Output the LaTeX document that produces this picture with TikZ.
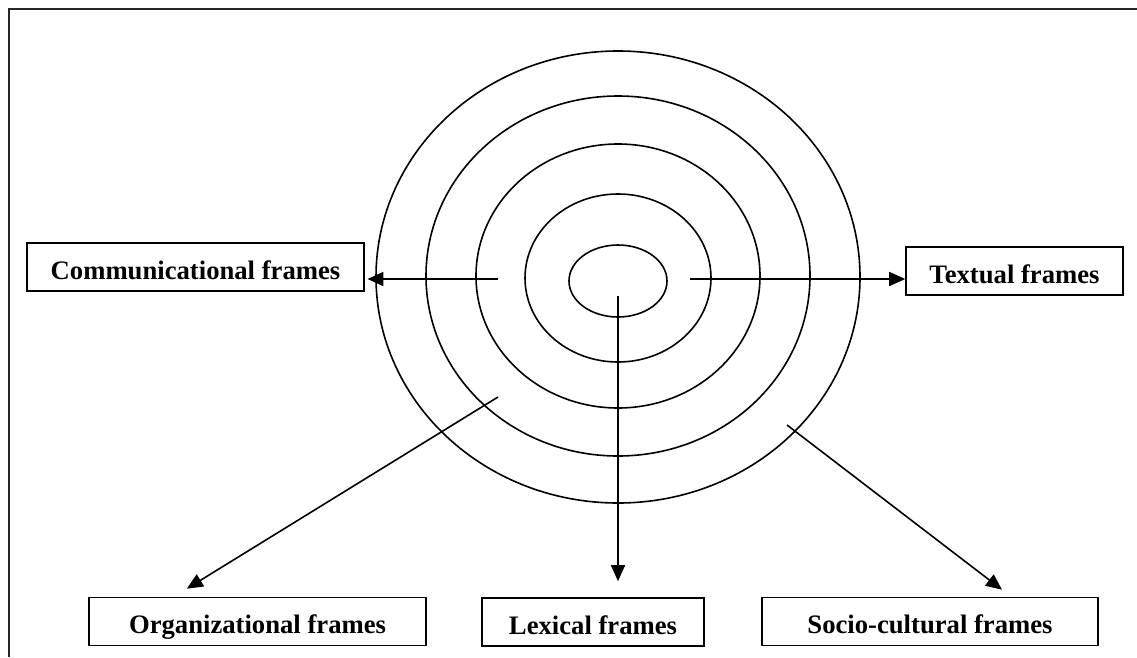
\documentclass[tikz,border=0pt]{standalone}
\usepackage{fontspec}
\setmainfont{Liberation Serif}
\usetikzlibrary{arrows.meta}
\tikzset{
	framebox/.style={draw, line width=1.2pt, inner sep=0pt, minimum height=36pt, text height=18pt, text depth=0pt, font=\fontsize{20}{24}\selectfont\bfseries},
	ring/.style={line width=1.2pt},
	arr/.style={line width=1.2pt, -{Triangle[length=12pt,width=10.5pt]}}
}

\begin{document}
\begin{tikzpicture}[x=0.75pt, y=-0.75pt]
			%%%%% START %%%%%
			\useasboundingbox (0, 0) rectangle (1137, 657);
			
			\draw[line width=1.6pt, color=black!85] (1137, 9) -- (9, 9) -- (9, 657);
			
			\draw[ring] (618, 277) ellipse (181.5pt and 169.5pt);
			\draw[ring] (618, 276) ellipse (144pt and 135pt);
			\draw[ring] (618, 276) ellipse (106.5pt and 99pt);
			\draw[ring] (618, 278) ellipse (69.75pt and 63pt);
			\draw[ring] (618, 281) ellipse (36.75pt and 27pt);
			
			\node[framebox, minimum width=252.75pt] (comm) at (195.5, 267) {Communicational frames};
			\node[framebox, minimum width=162.75pt] (textual) at (1014.5, 271) {Textual frames};
			\node[framebox, minimum width=252.75pt] (org) at (257.5, 621.5) {Organizational frames};
			\node[framebox, minimum width=166.5pt] (lex) at (593, 622) {Lexical frames};
			\node[framebox, minimum width=252pt] (socio) at (930, 621.5) {Socio-cultural frames};
			
			\coordinate (commfrom) at (498, 279);
			\coordinate (textfrom) at (690, 279);
			\coordinate (lexfrom) at (618, 296);
			\coordinate (orgfrom) at (498, 397);
			\coordinate (sociofrom) at (787, 425);
			
			\draw[arr, shorten >=2pt] (commfrom) -- (commfrom -| comm.east);
			\draw[arr] (textfrom) -- (textfrom -| textual.west);
			\draw[arr] (lexfrom) -- ([xshift=18.75pt, yshift=12pt]lex.north);
			\draw[arr] (orgfrom) -- ([xshift=-53pt, yshift=6pt]org.north);
			\draw[arr] (sociofrom) -- ([xshift=54pt, yshift=5.25pt]socio.north);
			
			%%%%% END %%%%%
\end{tikzpicture}
\end{document}
